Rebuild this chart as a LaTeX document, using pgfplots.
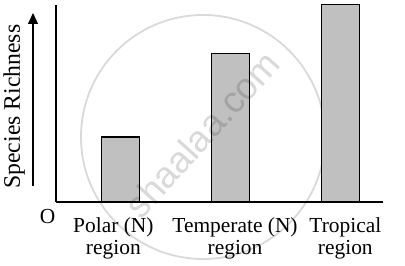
\documentclass[border=0pt]{standalone}
\usepackage{pgfplots}
\pgfplotsset{compat=1.18}
\usepackage{fontspec}
\setmainfont{Liberation Serif}
\setsansfont{Liberation Sans}
\usetikzlibrary{arrows.meta}
\definecolor{barfill}{RGB}{192,192,192}
\begin{document}
\begin{tikzpicture}
\path[use as bounding box] (-56bp,-64bp) rectangle (349bp,202bp);
\draw[black, opacity=0.15, line width=1.8bp] (147bp,65bp) circle (122bp);
\begin{axis}[
  at={(0,0)}, anchor=south west,
  scale only axis,
  width=327bp, height=197bp,
  xmin=0.4136, xmax=3.3864,
  ymin=0, ymax=197.5,
  axis x line=bottom, axis y line=left,
  axis line style={-, line width=1.3bp, black},
  xtick={0.935,2.041,3.044},
  xticklabels={{Polar (N)\\region},{Temperate (N)\\region},{Tropical\\region}},
  xticklabel style={align=center, inner sep=0pt, yshift=-15.4bp,
    font=\fontsize{21.5}{22}\selectfont},
  major tick length=0pt,
  ytick=\empty,
  ylabel={Species Richness},
  ylabel style={at={(axis description cs:-0.128,0.484)}, anchor=center,
    rotate=0, inner sep=0pt, font=\fontsize{23.8}{24}\selectfont},
  clip=false,
]
\addplot[ybar, bar width=38bp, fill=barfill, draw=black, line width=1.3bp]
  coordinates {(1,65.3) (2,149) (3,198)};
\end{axis}
\draw[line width=1.1bp, -{Triangle[length=11bp,width=10bp]}] (-23bp,16bp) -- (-23bp,189bp);
\node[font=\fontsize{21.5}{22}\selectfont, inner sep=0pt] at (-8.5bp,-14.5bp) {O};
\node[black, opacity=0.15, rotate=48, font=\sffamily\fontsize{37}{37}\selectfont] at (146bp,68bp) {shaalaa.com};
\end{tikzpicture}
\end{document}
